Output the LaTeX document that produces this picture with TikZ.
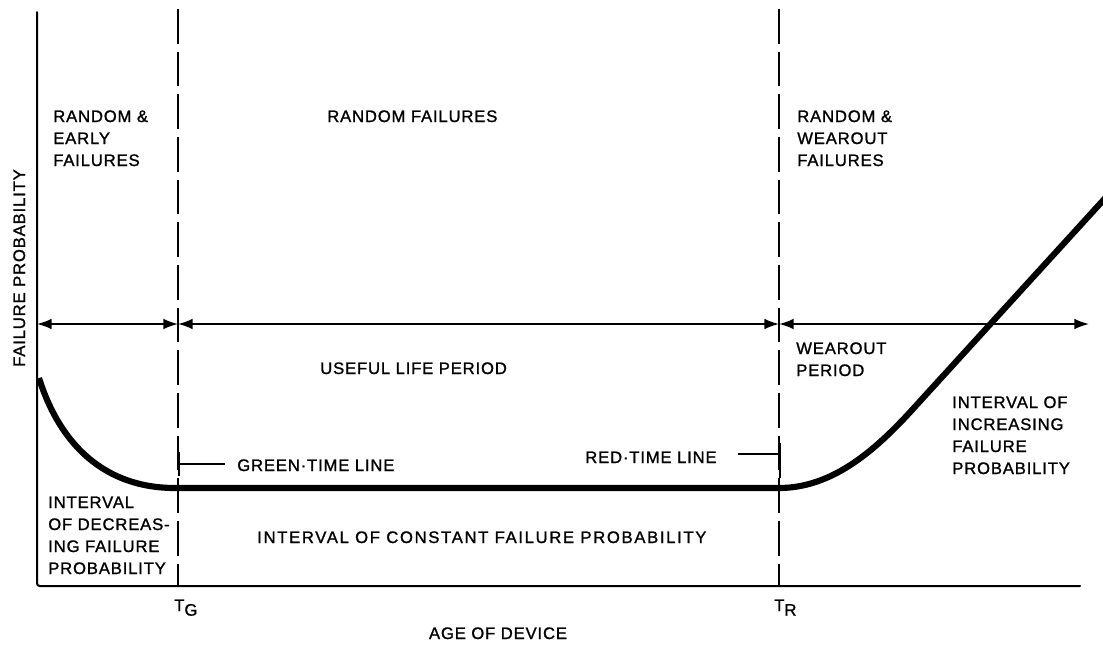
\documentclass[tikz,border=0pt]{standalone}
\usepackage{fontspec}
\setmainfont{Liberation Sans}[LetterSpace=5, FakeBold=1.2]
\usetikzlibrary{arrows.meta}
\tikzset{
  axisline/.style={line width=1.5pt, line cap=round, rounded corners=2pt},
  boundary/.style={line width=1.4pt, dash pattern=on 26pt off 6pt},
  tick/.style={line width=1.2pt},
  period/.style={line width=1.3pt, {Latex[length=11pt,width=8pt]}-{Latex[length=11pt,width=8pt]}},
  curve/.style={line width=4.6pt, line join=round},
  lbl/.style={inner sep=0pt, anchor=base west, align=left, font=\fontsize{12.5}{16.5}\selectfont},
}
\begin{document}
\begin{tikzpicture}[x=0.75pt, y=-0.75pt]
\useasboundingbox (0,0) rectangle (1103,644);

% axes
\coordinate (ytop) at (37,12);
\coordinate (origin) at (37,586);
\coordinate (xend) at (1080,586);
\draw[axisline] (ytop) -- (origin) -- (xend);

% green-time and red-time boundaries
\coordinate (tgtop) at (178,9);
\coordinate (tgbot) at (178,586);
\coordinate (trtop) at (779,9);
\coordinate (trbot) at (779,586);
\draw[boundary] (tgtop) -- (tgbot);
\draw[boundary] (trtop) -- (trbot);

% period arrows
\coordinate (p0) at (37,324);
\coordinate (p1) at (178,324);
\coordinate (p2) at (779,324);
\coordinate (p3) at (1089,324);
\draw[period] (p0) -- (p1);
\draw[period] (p1) -- (p2);
\draw[period] (p2) -- (p3);

% failure probability curve
\coordinate (c0) at (39,378);
\coordinate (c1) at (175,488);
\coordinate (c2) at (779,488);
\coordinate (c3) at (912,410);
\coordinate (c4) at (1108,195);
\draw[curve] (c0) .. controls (60,445) and (105,488) .. (c1) -- (c2)
  .. controls (830,488) and (872,454) .. (c3) -- (c4);

% time line markers
\coordinate (gt1) at (179,452);
\coordinate (gt2) at (179,476);
\coordinate (gt3) at (179,464);
\coordinate (gt4) at (225,464);
\draw[tick] (gt1) -- (gt2);
\draw[tick] (gt3) -- (gt4);
\coordinate (rt1) at (780,443);
\coordinate (rt2) at (780,478);
\coordinate (rt3) at (780,454);
\coordinate (rt4) at (738,454);
\draw[tick] (rt1) -- (rt2);
\draw[tick] (rt3) -- (rt4);

% labels (multi-line labels are placed by the baseline of their last line)
\node[lbl] (early) at (53,166) {RANDOM \&\\EARLY\\FAILURES};
\node[lbl] (random) at (327,122) {RANDOM FAILURES};
\node[lbl] (wear) at (797,166) {RANDOM \&\\WEAROUT\\FAILURES};
\node[lbl] (useful) at (320,374) {USEFUL LIFE PERIOD};
\node[lbl] (wearperiod) at (796,376) {WEAROUT\\PERIOD};
\node[lbl] (incr) at (952,474) {INTERVAL OF\\INCREASING\\FAILURE\\PROBABILITY};
\node[lbl] (green) at (237,471) {GREEN·TIME LINE};
\node[lbl] (red) at (585,463) {RED·TIME LINE};
\node[lbl] (decr) at (48,574) {INTERVAL\\OF DECREAS-\\ING FAILURE\\PROBABILITY};
\node[lbl] (const) at (257,543) {\addfontfeature{LetterSpace=10}INTERVAL OF CONSTANT FAILURE PROBABILITY};
\node[lbl] (tg) at (174,611) {T\raisebox{-3.5pt}{G}};
\node[lbl] (tr) at (774,611) {T\raisebox{-3.5pt}{R}};
\node[inner sep=0pt, anchor=base, font=\fontsize{12.5}{16.5}\selectfont] (age) at (498,639) {AGE OF DEVICE};
\node[inner sep=0pt, anchor=base, rotate=90, font=\fontsize{12.5}{16.5}\selectfont] (fp) at (25,268) {FAILURE PROBABILITY};
\end{tikzpicture}
\end{document}
